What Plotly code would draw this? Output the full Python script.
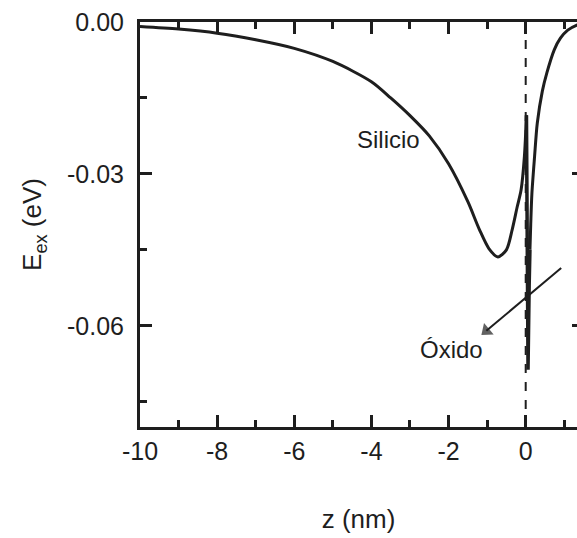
import plotly.graph_objects as go

# Exchange energy profile across the Si / oxide interface
z_nm = [-10.0, -9.0, -8.0, -7.0, -6.0, -5.0, -4.0, -3.5, -3.0, -2.5, -2.0,
        -1.5, -1.2, -0.95, -0.72, -0.5, -0.35, -0.22, -0.12,
        -0.034, 0.02, 0.06, 0.09, 0.11, 0.13, 0.16, 0.23, 0.30, 0.43, 0.55,
        0.74, 0.90, 1.09, 1.30, 1.50]
E_ex = [-0.0009, -0.0014, -0.0022, -0.0035, -0.0052, -0.0078, -0.0118,
        -0.0150, -0.0185, -0.0225, -0.0280, -0.0355, -0.0410, -0.0448,
        -0.0464, -0.0450, -0.0410, -0.0365, -0.0332,
        -0.0266, -0.0184, -0.0687, -0.0520, -0.0450, -0.0400, -0.0340,
        -0.0266, -0.0200, -0.0137, -0.0100, -0.0055, -0.0032, -0.0016,
        -0.0007, -0.0003]

# index split: silicon side (smooth), oxide spike (sharp), far side (smooth)
SPIKE_START = 20
SPIKE_END = 23

x_tickvals = [-10, -8, -6, -4, -2, 0]
x_ticktext = ["-10", "-8", "-6", "-4", "-2", "0"]
y_tickvals = [0.0, -0.03, -0.06]
y_ticktext = ["0.00", "-0.03", "-0.06"]

# arrow pointing to the oxide label (tail -> head), data units
arrow_z = [0.92, -1.02]
arrow_E = [-0.0486, -0.0610]

FONT = "Liberation Sans, Arial, sans-serif"
INK = "#1e1e1e"

fig = go.Figure()
fig.add_trace(go.Scatter(x=z_nm[:SPIKE_START + 1], y=E_ex[:SPIKE_START + 1],
                         mode="lines",
                         line=dict(color=INK, width=3, shape="spline",
                                   smoothing=0.8),
                         showlegend=False, hoverinfo="skip"))
fig.add_trace(go.Scatter(x=z_nm[SPIKE_START:SPIKE_END + 1],
                         y=E_ex[SPIKE_START:SPIKE_END + 1], mode="lines",
                         line=dict(color=INK, width=3.5),
                         showlegend=False, hoverinfo="skip"))
fig.add_trace(go.Scatter(x=z_nm[SPIKE_END:], y=E_ex[SPIKE_END:],
                         mode="lines",
                         line=dict(color=INK, width=3, shape="spline",
                                   smoothing=0.8),
                         showlegend=False, hoverinfo="skip"))
# arrow
fig.add_trace(go.Scatter(x=arrow_z, y=arrow_E, mode="lines+markers",
                         line=dict(color=INK, width=2),
                         marker=dict(symbol=["circle", "triangle-up"],
                                     size=[0, 13], angleref="previous",
                                     color=INK, line=dict(width=0)),
                         showlegend=False, hoverinfo="skip"))
# helper trace so the right-hand tick axis is drawn
fig.add_trace(go.Scatter(x=[None], y=[None], yaxis="y2", showlegend=False,
                         hoverinfo="skip"))

fig.add_vline(x=0, line=dict(color=INK, width=2, dash="dash"), layer="below")

fig.add_annotation(x=-3.56, y=-0.0233, text="Silicio", showarrow=False,
                   font=dict(family=FONT, size=24, color=INK))
fig.add_annotation(x=-1.93, y=-0.0647, text="Óxido", showarrow=False,
                   font=dict(family=FONT, size=24, color=INK))

axis_common = dict(showgrid=False, zeroline=False, showline=True,
                   linecolor=INK, linewidth=3, ticks="inside", ticklen=12,
                   tickwidth=2.5, tickcolor=INK,
                   tickfont=dict(family=FONT, size=25, color=INK))

fig.update_layout(
    width=577, height=538,
    margin=dict(l=140, r=0, t=22, b=111),
    paper_bgcolor="white", plot_bgcolor="white",
    xaxis=dict(range=[-10, 1.33], tickmode="array", tickvals=x_tickvals,
               ticktext=x_ticktext, mirror="ticks",
               minor=dict(dtick=1, tick0=0, ticks="inside", ticklen=7,
                          tickwidth=2.5, tickcolor=INK),
               title=dict(text="z (nm)", standoff=46,
                          font=dict(family=FONT, size=26, color=INK)),
               **axis_common),
    yaxis=dict(range=[-0.08, 0.0], tickmode="array", tickvals=y_tickvals,
               ticktext=y_ticktext, ticklabelstandoff=8,
               minor=dict(dtick=0.015, tick0=0, ticks="inside", ticklen=7,
                          tickwidth=2.5, tickcolor=INK),
               title=dict(text="E<sub>ex</sub> (eV)", standoff=18,
                          font=dict(family=FONT, size=26, color=INK)),
               **axis_common),
    yaxis2=dict(range=[-0.08, 0.0], overlaying="y", side="right",
                showgrid=False, zeroline=False, showline=False,
                showticklabels=False, ticks="inside", ticklen=5,
                tickwidth=2.5, tickcolor=INK, tickmode="array",
                tickvals=y_tickvals),
)

fig.write_html("out.html")
